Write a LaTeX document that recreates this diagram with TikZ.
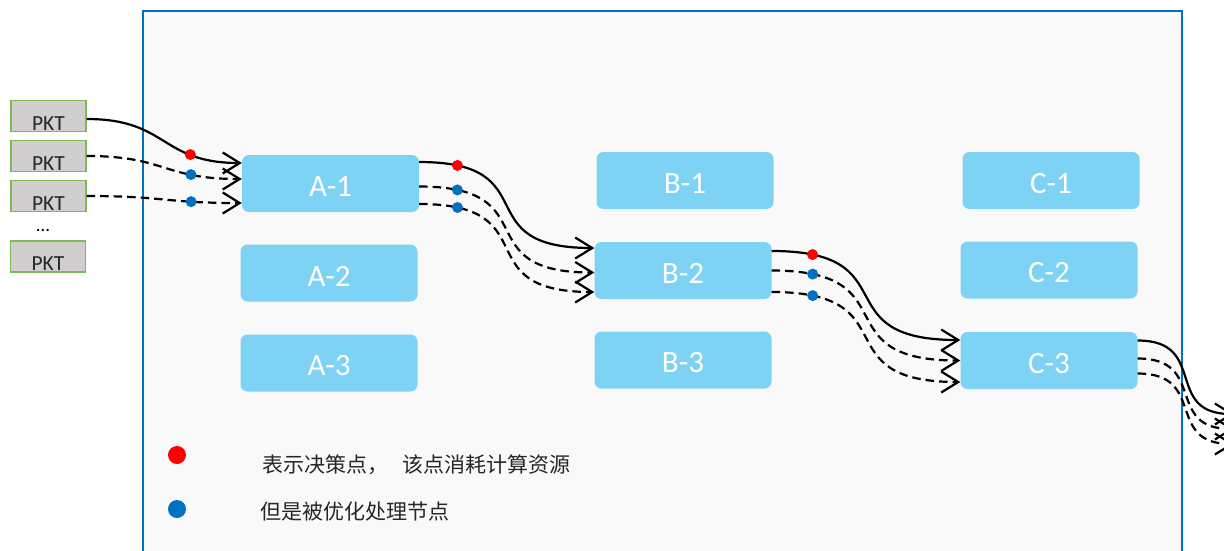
\documentclass[tikz,border=0pt]{standalone}
\usepackage{fontspec}
\setmainfont{Carlito}
\newfontfamily\cjk{Noto Sans CJK SC}
\usetikzlibrary{arrows.meta,calc}
\definecolor{boxblue}{RGB}{126,211,244}
\definecolor{framblue}{RGB}{0,112,192}
\definecolor{framfill}{RGB}{249,249,249}
\definecolor{pktgray}{RGB}{208,206,206}
\definecolor{pktgreen}{RGB}{125,185,85}
\definecolor{dotred}{RGB}{255,0,0}
\definecolor{dotblue}{RGB}{0,112,192}
\definecolor{legtext}{RGB}{38,38,38}
\newcommand{\boxlabel}[1]{\raisebox{-3pt}[\height][\depth]{#1}}
\newcommand{\pktlabel}{\raisebox{-14pt}[0pt][0pt]{PKT}}
\tikzset{
  frame/.style={draw=framblue,line width=2.5pt,fill=framfill},
  bluebox/.style={draw=none,fill=boxblue,rounded corners=7pt,minimum width=177pt,minimum height=57pt,
    text=white,font=\fontsize{31}{36}\selectfont,inner sep=0pt},
  pktbox/.style={draw=pktgreen,line width=1.3pt,fill=pktgray,minimum width=75pt,minimum height=31pt,
    inner sep=0pt,font=\fontsize{21.5}{24}\selectfont,text=black!85},
  flow/.style={line width=2.2pt,-{Straight Barb[length=17pt,width=21pt,line width=2.2pt]}},
  dflow/.style={flow,dash pattern=on 8.5pt off 5pt},
  reddot/.style={circle,fill=dotred,draw=none,minimum size=11pt,inner sep=0pt},
  bluedot/.style={circle,fill=dotblue,draw=none,minimum size=11pt,inner sep=0pt},
  bigred/.style={circle,fill=dotred,draw=none,minimum size=18pt,inner sep=0pt},
  bigblue/.style={circle,fill=dotblue,draw=none,minimum size=18pt,inner sep=0pt},
  legend/.style={anchor=west,inner sep=0pt,text=legtext,font=\cjk\fontsize{21}{25}\selectfont},
}
\begin{document}
\begin{tikzpicture}[x=1pt,y=-1pt]
\useasboundingbox (0,0) rectangle (1224,550);
\clip (0,0) rectangle (1224,550);
\fill[white] (0,0) rectangle (1224,550);
\draw[frame] (143,11) rectangle (1182,565);

% blue boxes
\node[bluebox] (A1) at (330.5,183.5) {\boxlabel{A-1}};
\node[bluebox] (A2) at (329,273) {\boxlabel{A-2}};
\node[bluebox] (A3) at (329,363) {\boxlabel{A-3}};
\node[bluebox] (B1) at (685,180.5) {\boxlabel{B-1}};
\node[bluebox] (B2) at (683,270.5) {\boxlabel{B-2}};
\node[bluebox] (B3) at (683,360) {\boxlabel{B-3}};
\node[bluebox] (C1) at (1051,180.5) {\boxlabel{C-1}};
\node[bluebox] (C2) at (1049,270) {\boxlabel{C-2}};
\node[bluebox] (C3) at (1049,360.5) {\boxlabel{C-3}};

% packets
\node[pktbox] (P1) at (48.5,116) {\pktlabel};
\node[pktbox] (P2) at (48.5,156) {\pktlabel};
\node[pktbox] (P3) at (48.5,196) {\pktlabel};
\node[font=\fontsize{19}{20}\selectfont,inner sep=0pt] (dots) at (43,230.5) {...};
\node[pktbox] (P4) at (48,256.5) {\pktlabel};

% packets -> A-1
\draw[flow] ($(P1.east)+(0,3)$) to[out=0,in=180,looseness=1.3]
  node[pos=0.72,reddot] (r0) {} ($(A1.west)+(0,-20.5)$);
\draw[dflow] ($(P2.east)+(0,0)$) to[out=0,in=180,looseness=1.3]
  node[pos=0.72,bluedot] (b0a) {} ($(A1.west)+(0,-4.5)$);
\draw[dflow] ($(P3.east)+(0,0)$) to[out=0,in=180,looseness=1.3]
  node[pos=0.72,bluedot] (b0b) {} ($(A1.west)+(0,19.5)$);

% A-1 -> B-2
\draw[flow] ($(A1.east)+(0,-21.5)$) to[out=0,in=180,looseness=1.7]
  node[pos=0.12,reddot] (r1) {} ($(B2.west)+(0,-22.5)$);
\draw[dflow] ($(A1.east)+(0,3)$) to[out=0,in=180,looseness=1.7]
  node[pos=0.12,bluedot] (b1a) {} ($(B2.west)+(0,2)$);
\draw[dflow] ($(A1.east)+(0,20.5)$) to[out=0,in=180,looseness=1.7]
  node[pos=0.12,bluedot] (b1b) {} ($(B2.west)+(0,21.5)$);

% B-2 -> C-3
\draw[flow] ($(B2.east)+(0,-19.5)$) to[out=0,in=180,looseness=1.7]
  node[pos=0.12,reddot] (r2) {} ($(C3.west)+(0,-20.5)$);
\draw[dflow] ($(B2.east)+(0,0)$) to[out=0,in=180,looseness=1.7]
  node[pos=0.12,bluedot] (b2a) {} ($(C3.west)+(0,0)$);
\draw[dflow] ($(B2.east)+(0,21.5)$) to[out=0,in=180,looseness=1.7]
  node[pos=0.12,bluedot] (b2b) {} ($(C3.west)+(0,21.5)$);

% C-3 -> out
\coordinate (E1) at (1234,414);
\coordinate (E2) at (1234,429);
\coordinate (E3) at (1234,444);
\draw[flow] ($(C3.east)+(0,-20)$) to[out=0,in=180,looseness=1.5] (E1);
\draw[dflow] ($(C3.east)+(0,-2)$) to[out=0,in=180,looseness=1.5] (E2);
\draw[dflow] ($(C3.east)+(0,13)$) to[out=0,in=180,looseness=1.5] (E3);

% legend
\node[bigred] (LR) at (177,455) {};
\node[legend] (LRt) at (262,465) {表示决策点，\hspace{14pt}该点消耗计算资源};
\node[bigblue] (LB) at (177,509) {};
\node[legend] (LBt) at (260,512) {但是被优化处理节点};
\end{tikzpicture}
\end{document}
